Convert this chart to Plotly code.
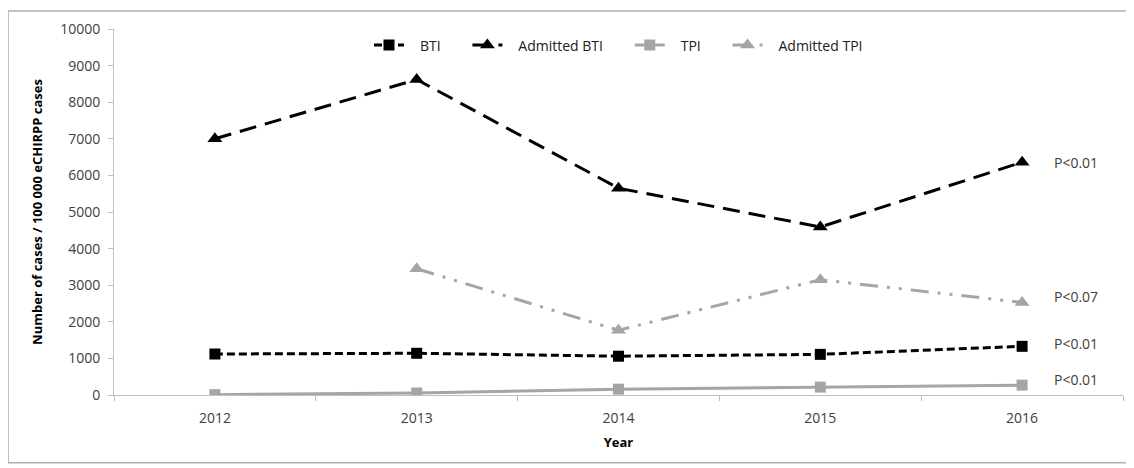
import plotly.graph_objects as go

years = ["2012", "2013", "2014", "2015", "2016"]
bti = [1120, 1140, 1060, 1110, 1330]
admitted_bti = [7000, 8620, 5650, 4590, 6360]
tpi = [10, 55, 160, 215, 270]
admitted_tpi = [None, 3450, 1770, 3150, 2530]
series_names = ["BTI", "Admitted BTI", "TPI", "Admitted TPI"]
p_labels = ["P<0.01", "P<0.07", "P<0.01", "P<0.01"]

GRAY = "#a5a5a5"
TXT = "#404040"
FONT = "Open Sans, Liberation Sans, sans-serif"
NB = "\u00a0"


def legend_name(name, last=False):
    return NB * 3 + name + ("" if last else NB * 6)


fig = go.Figure()
fig.add_trace(go.Scatter(x=years, y=bti, name=legend_name(series_names[0]), mode="lines+markers",
                         line=dict(color="black", width=3, dash="8px,4px"),
                         marker=dict(symbol="square", size=11, color="black")))
fig.add_trace(go.Scatter(x=years, y=admitted_bti, name=legend_name(series_names[1]), mode="lines+markers",
                         line=dict(color="black", width=3, dash="17px,9px"),
                         marker=dict(symbol="triangle-up", size=13, color="black")))
fig.add_trace(go.Scatter(x=years, y=tpi, name=legend_name(series_names[2]), mode="lines+markers",
                         line=dict(color=GRAY, width=3),
                         marker=dict(symbol="square", size=11, color=GRAY)))
fig.add_trace(go.Scatter(x=years, y=admitted_tpi, name=legend_name(series_names[3], last=True),
                         mode="lines+markers",
                         line=dict(color=GRAY, width=3, dash="18px,9px,3px,9px,3px,9px"),
                         marker=dict(symbol="triangle-up", size=13, color=GRAY)))

label_y = [admitted_bti[-1], admitted_tpi[-1], bti[-1], tpi[-1]]
shifts = [0, 6, 3, 6]
for lab, yv, s in zip(p_labels, label_y, shifts):
    fig.add_annotation(x=4.15, y=yv, xref="x", yref="y", text=lab, showarrow=False,
                       xanchor="left", yshift=s, font=dict(size=14, color=TXT, family=FONT))

fig.add_shape(type="rect", xref="paper", yref="paper", x0=-0.105, x1=1.03, y0=-0.185, y1=1.049,
              line=dict(color="#b0b0b0", width=1.5), layer="below")

fig.update_layout(
    width=1126, height=460,
    margin=dict(l=106, r=11, t=19, b=73),
    paper_bgcolor="white", plot_bgcolor="white",
    font=dict(family=FONT, size=14, color=TXT),
    showlegend=True,
    legend=dict(orientation="h", x=0.5, xanchor="center", y=0.955, yanchor="middle",
                bgcolor="rgba(0,0,0,0)", font=dict(size=14, color="#202020"),
                traceorder="normal"),
    xaxis=dict(type="category", showline=True, linecolor="#bfbfbf", linewidth=1,
               ticks="outside", tickson="boundaries", ticklen=5, tickcolor="#bfbfbf",
               showgrid=False, zeroline=False, range=[-0.5, 4.5], ticklabelstandoff=10,
               title=dict(text="<b>Year</b>", font=dict(size=13, color="black"), standoff=12),
               tickfont=dict(size=14, color=TXT)),
    yaxis=dict(range=[0, 10000], dtick=1000, tickformat="d", showline=True,
               linecolor="#bfbfbf", linewidth=1,
               ticks="outside", ticklen=5, tickcolor="#bfbfbf", showgrid=False, zeroline=False,
               ticklabelstandoff=5,
               title=dict(text="<b>Number of cases / 100 000 eCHIRPP cases</b>",
                          font=dict(size=13, color="black"), standoff=14),
               tickfont=dict(size=14, color=TXT)),
)

fig.write_html("out.html")
